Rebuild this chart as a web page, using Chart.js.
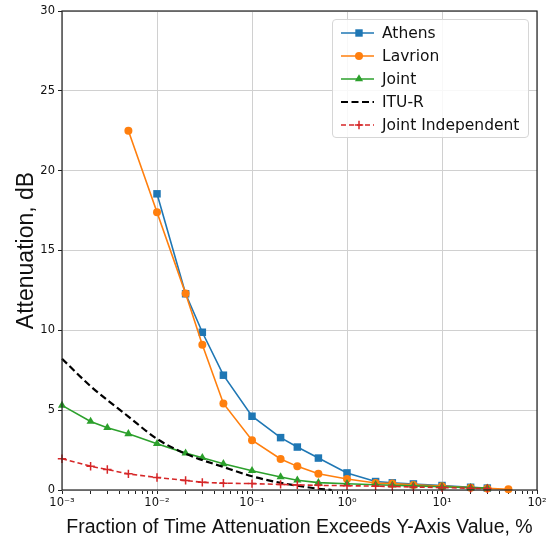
<!DOCTYPE html>
<html>
<head>
<meta charset="utf-8">
<script src="https://cdn.jsdelivr.net/npm/chart.js@4/dist/chart.umd.min.js"></script>
<style>
  html, body { margin: 0; padding: 0; background: #fff; }
  #wrap { position: relative; width: 552px; height: 540px; }
  #legend { position: absolute; left: 332px; top: 19px; width: 197px; height: 119px;
            border: 1px solid #d6d6d6; border-radius: 4px; background: rgba(255,255,255,0.85);
            font-family: "DejaVu Sans", sans-serif; font-size: 15.5px; color: #111; box-sizing: border-box; }
  .row { position: absolute; left: 0; height: 22px; width: 100%; }
  .row svg { position: absolute; left: 4px; top: 0; }
  .row span { position: absolute; left: 49px; top: 1px; line-height: 20px; white-space: nowrap; }
</style>
</head>
<body>
<div id="wrap">
  <canvas id="c" width="552" height="540"></canvas>
  <div id="legend"></div>
</div>
<script>
// ---- data ----
const athensX = [0.01, 0.02, 0.03, 0.05, 0.1, 0.2, 0.3, 0.5, 1, 2, 3, 5, 10, 20, 30];
const athensY = [18.55, 12.29, 9.88, 7.19, 4.62, 3.28, 2.69, 2.0, 1.07, 0.53, 0.45, 0.38, 0.28, 0.17, 0.12];

const lavrionX = [0.005, 0.01, 0.02, 0.03, 0.05, 0.1, 0.2, 0.3, 0.5, 1, 2, 3, 5, 10, 20, 30, 50];
const lavrionY = [22.5, 17.4, 12.3, 9.09, 5.42, 3.12, 1.94, 1.48, 1.02, 0.69, 0.44, 0.4, 0.32, 0.24, 0.14, 0.1, 0.05];

const jointX = [0.001, 0.002, 0.003, 0.005, 0.01, 0.02, 0.03, 0.05, 0.1, 0.2, 0.3, 0.5, 1, 2, 3, 5, 10, 20, 30];
const jointY = [5.3, 4.29, 3.9, 3.52, 2.9, 2.31, 2.02, 1.64, 1.21, 0.82, 0.61, 0.46, 0.39, 0.33, 0.3, 0.26, 0.2, 0.15, 0.12];

const ituX = [0.001, 0.002, 0.005, 0.01, 0.02, 0.05, 0.1, 0.2, 0.5, 0.69];
const ituY = [8.22, 6.5, 4.6, 3.2, 2.27, 1.44, 0.86, 0.45, 0.08, 0];

const indepX = [0.001, 0.002, 0.003, 0.005, 0.01, 0.02, 0.03, 0.05, 0.1, 0.2, 0.3, 0.5, 1, 2, 3, 5, 10, 20, 30];
const indepY = [1.96, 1.49, 1.28, 1.01, 0.78, 0.6, 0.48, 0.43, 0.4, 0.35, 0.32, 0.29, 0.27, 0.24, 0.22, 0.19, 0.15, 0.11, 0.09];

const seriesNames = ["Athens", "Lavrion", "Joint", "ITU-R", "Joint Independent"];
const xTickDecades = [-3, -2, -1, 0, 1, 2];
const yTicks = [0, 5, 10, 15, 20, 25, 30];
const xTitle = "Fraction of Time Attenuation Exceeds Y-Axis Value, %";
const yTitle = "Attenuation, dB";

// ---- helpers ----
const pts = (xs, ys) => xs.map((x, i) => ({ x: x, y: ys[i] }));
const sup = { "-": "\u207B", "0": "\u2070", "1": "\u00B9", "2": "\u00B2", "3": "\u00B3" };
const supStr = n => String(n).split("").map(c => sup[c]).join("");
const isDecade = v => Math.abs(Math.log10(v) - Math.round(Math.log10(v))) < 1e-9;

const logTicks = [];
for (let e = xTickDecades[0]; e < xTickDecades[xTickDecades.length - 1]; e++) {
  for (let m = 1; m <= 9; m++) logTicks.push(+(m * Math.pow(10, e)).toPrecision(6));
}
logTicks.push(Math.pow(10, xTickDecades[xTickDecades.length - 1]));

const colors = ["#1f77b4", "#ff7f0e", "#2ca02c", "#000000", "#d62728"];

const framePlugin = {
  id: "frame",
  afterDatasetsDraw(chart) {
    const a = chart.chartArea, ctx = chart.ctx;
    ctx.save();
    ctx.strokeStyle = "#222";
    ctx.lineWidth = 1.2;
    ctx.strokeRect(a.left, a.top, a.right - a.left, a.bottom - a.top);
    ctx.restore();
  }
};

const common = { fill: false, tension: 0, clip: false };

new Chart(document.getElementById("c"), {
  type: "line",
  data: {
    datasets: [
      Object.assign({}, common, { label: seriesNames[0], data: pts(athensX, athensY), borderColor: colors[0], backgroundColor: colors[0],
        borderWidth: 1.6, pointStyle: "rect", pointRadius: 5.3, pointBorderWidth: 0, order: 5 }),
      Object.assign({}, common, { label: seriesNames[1], data: pts(lavrionX, lavrionY), borderColor: colors[1], backgroundColor: colors[1],
        borderWidth: 1.6, pointStyle: "circle", pointRadius: 4, pointBorderWidth: 0, order: 4 }),
      Object.assign({}, common, { label: seriesNames[2], data: pts(jointX, jointY), borderColor: colors[2], backgroundColor: colors[2],
        borderWidth: 1.6, pointStyle: "triangle", pointRadius: 4.7, pointBorderWidth: 0, order: 3 }),
      Object.assign({}, common, { label: seriesNames[3], data: pts(ituX, ituY), borderColor: colors[3], backgroundColor: colors[3],
        borderWidth: 2.2, borderDash: [7, 3.5], pointRadius: 0, cubicInterpolationMode: "monotone", order: 2 }),
      Object.assign({}, common, { label: seriesNames[4], data: pts(indepX, indepY), borderColor: colors[4], backgroundColor: colors[4],
        borderWidth: 1.6, borderDash: [5, 3], pointStyle: "cross", pointRadius: 4.2, pointBorderWidth: 1.5, order: 1 })
    ]
  },
  options: {
    responsive: false,
    animation: false,
    devicePixelRatio: 1,
    layout: { padding: { top: 11, right: 15, left: 0, bottom: 0 } },
    plugins: { legend: { display: false }, tooltip: { enabled: false } },
    scales: {
      x: {
        type: "logarithmic",
        min: Math.pow(10, xTickDecades[0]),
        max: Math.pow(10, xTickDecades[xTickDecades.length - 1]),
        afterBuildTicks: s => { s.ticks = logTicks.map(v => ({ value: v })); },
        afterFit: s => { s.height = 50; },
        border: { display: false },
        grid: {
          color: c => (c.tick && isDecade(c.tick.value)) ? "#d0d0d0" : "rgba(0,0,0,0)",
          lineWidth: 1,
          tickColor: "#222",
          tickLength: 4,
          drawTicks: true
        },
        ticks: {
          autoSkip: false, maxRotation: 0, minRotation: 0, padding: 2,
          color: "#111",
          font: { family: "DejaVu Sans", size: 11.5 },
          callback: v => isDecade(v) ? "10" + supStr(Math.round(Math.log10(v))) : ""
        },
        title: { display: true, text: xTitle, color: "#111",
          font: { family: "Liberation Sans", size: 19.5 }, padding: { top: 0, bottom: 1 } }
      },
      y: {
        min: 0, max: 30,
        afterBuildTicks: s => { s.ticks = yTicks.map(v => ({ value: v })); },
        afterFit: s => { s.width = 62; },
        border: { display: false },
        grid: { color: "#d0d0d0", lineWidth: 1, tickColor: "#222", tickLength: 4 },
        ticks: { padding: 3, color: "#111", font: { family: "DejaVu Sans", size: 11.5 } },
        title: { display: true, text: yTitle, color: "#111",
          font: { family: "Liberation Sans", size: 23 }, padding: { top: 13, bottom: 0 } }
      }
    }
  },
  plugins: [framePlugin]
});

// ---- HTML legend ----
const legend = document.getElementById("legend");
const markerSvg = (i) => {
  const c = colors[i], cx = 22, cy = 11;
  let line = '<line x1="4" y1="11" x2="37" y2="11" stroke="' + c + '" stroke-width="' + (i === 3 ? 2.2 : 1.6) + '"' +
    (i === 3 ? ' stroke-dasharray="7,3.5"' : (i === 4 ? ' stroke-dasharray="5,3"' : '')) + '/>';
  let m = "";
  if (i === 0) m = '<rect x="' + (cx - 3.7) + '" y="' + (cy - 3.7) + '" width="7.4" height="7.4" fill="' + c + '"/>';
  if (i === 1) m = '<circle cx="' + cx + '" cy="' + cy + '" r="4" fill="' + c + '"/>';
  if (i === 2) m = '<polygon points="' + cx + ',' + (cy - 4.7) + ' ' + (cx + 4.1) + ',' + (cy + 2.35) + ' ' + (cx - 4.1) + ',' + (cy + 2.35) + '" fill="' + c + '"/>';
  if (i === 4) m = '<line x1="' + (cx - 4.2) + '" y1="' + cy + '" x2="' + (cx + 4.2) + '" y2="' + cy + '" stroke="' + c + '" stroke-width="1.5"/>' +
                   '<line x1="' + cx + '" y1="' + (cy - 4.2) + '" x2="' + cx + '" y2="' + (cy + 4.2) + '" stroke="' + c + '" stroke-width="1.5"/>';
  return '<svg width="42" height="22">' + line + m + '</svg>';
};
seriesNames.forEach((name, i) => {
  const row = document.createElement("div");
  row.className = "row";
  row.style.top = (2 + 23 * i) + "px";
  row.innerHTML = markerSvg(i);
  const s = document.createElement("span");
  s.textContent = name;
  row.appendChild(s);
  legend.appendChild(row);
});
</script>
</body>
</html>
